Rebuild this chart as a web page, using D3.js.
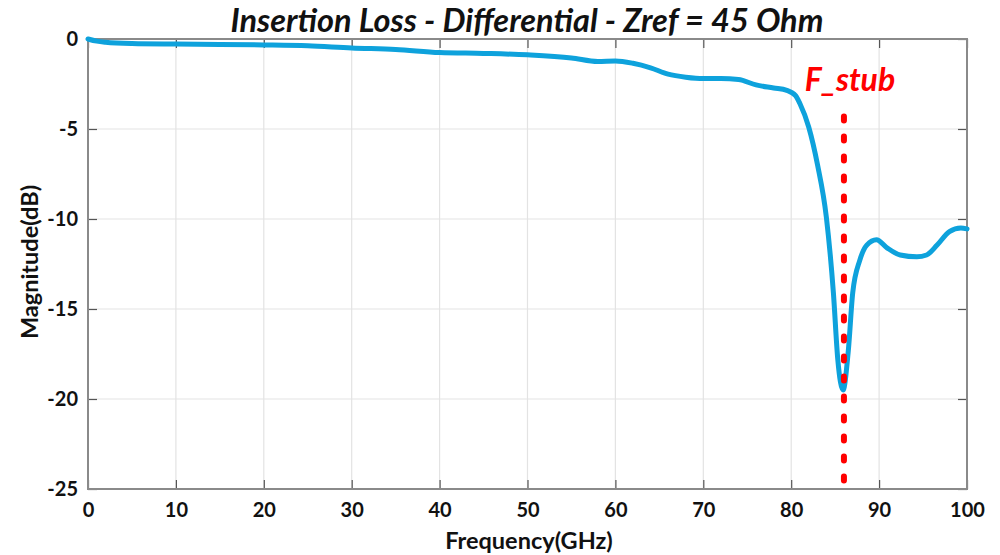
<!DOCTYPE html>
<html>
<head>
<meta charset="utf-8">
<script src="https://cdn.jsdelivr.net/npm/d3@7"></script>
<style>
  html, body { margin: 0; padding: 0; background: #fff; }
  svg { display: block; }
  text { font-family: Lato, "Open Sans", sans-serif; }
</style>
</head>
<body>
<svg id="chart" width="1000" height="555"></svg>
<script>
// Insertion loss sweep (GHz, dB)
const freq = [0, 1, 2, 5, 10, 15, 20, 25, 30, 35, 40, 45, 50, 55, 58, 60, 62, 64, 66, 68, 70, 72, 74, 76, 78, 79.5, 80.5, 81, 82, 83, 84, 84.8, 85.3, 85.9, 86.5, 87, 87.8, 88.6, 89.7, 90.9, 92.4, 94.3, 95.4, 96.6, 98, 99.3, 100];
const magnitude = [0, -0.12, -0.18, -0.25, -0.28, -0.3, -0.33, -0.38, -0.5, -0.58, -0.75, -0.8, -0.88, -1.05, -1.25, -1.22, -1.35, -1.6, -1.95, -2.12, -2.2, -2.2, -2.25, -2.55, -2.72, -2.85, -3.15, -3.6, -4.9, -7.0, -9.9, -14.1, -17.8, -19.5, -17.3, -14.1, -12.3, -11.45, -11.15, -11.6, -12.0, -12.1, -12.0, -11.45, -10.7, -10.5, -10.55];
const xTicks = [0, 10, 20, 30, 40, 50, 60, 70, 80, 90, 100];
const yTicks = [0, -5, -10, -15, -20, -25];
const stubFreq = 86.0;
const stubTop = -4.3;

const svg = d3.select("#chart");
const plotL = 88, plotR = 967, plotT = 39, plotB = 489;

const x = d3.scaleLinear().domain([0, 100]).range([plotL, plotR]);
const y = d3.scaleLinear().domain([-25, 0]).range([plotB, plotT]);
const plain = d => String(d);

// grid
const grid = svg.append("g");
grid.selectAll(".gx").data(xTicks).join("line")
  .attr("x1", d => x(d)).attr("x2", d => x(d))
  .attr("y1", plotT).attr("y2", plotB)
  .attr("stroke", "#e3e3e3").attr("stroke-width", 1.2);
grid.selectAll(".gy").data(yTicks).join("line")
  .attr("x1", plotL).attr("x2", plotR)
  .attr("y1", d => y(d)).attr("y2", d => y(d))
  .attr("stroke", "#e3e3e3").attr("stroke-width", 1.2);

// axes with inward ticks on all four sides
const tickStyle = g => {
  g.select(".domain").remove();
  g.selectAll(".tick line").attr("stroke", "#555").attr("stroke-width", 1.2);
};
const labelStyle = g => g.selectAll("text")
  .attr("font-size", 20).attr("font-weight", 700).attr("fill", "#111");

svg.append("g").attr("transform", `translate(0,${plotB})`)
  .call(d3.axisBottom(x).tickValues(xTicks).tickFormat(plain).tickSizeInner(-9).tickSizeOuter(0).tickPadding(14))
  .call(tickStyle).call(labelStyle);
svg.append("g").attr("transform", `translate(0,${plotT})`)
  .call(d3.axisTop(x).tickValues(xTicks).tickSizeInner(-9).tickSizeOuter(0).tickFormat(""))
  .call(tickStyle);
svg.append("g").attr("transform", `translate(${plotL},0)`)
  .call(d3.axisLeft(y).tickValues(yTicks).tickFormat(plain).tickSizeInner(-9).tickSizeOuter(0).tickPadding(10))
  .call(tickStyle).call(labelStyle);
svg.append("g").attr("transform", `translate(${plotR},0)`)
  .call(d3.axisRight(y).tickValues(yTicks).tickSizeInner(-9).tickSizeOuter(0).tickFormat(""))
  .call(tickStyle);

// frame
svg.append("rect")
  .attr("x", plotL).attr("y", plotT).attr("width", plotR - plotL).attr("height", plotB - plotT)
  .attr("fill", "none").attr("stroke", "#8a8a8a").attr("stroke-width", 2);

// curve
const line = d3.line().x((d, i) => x(freq[i])).y(d => y(d)).curve(d3.curveMonotoneX);
svg.append("path").datum(magnitude)
  .attr("d", line)
  .attr("fill", "none").attr("stroke", "#0ea2dc").attr("stroke-width", 5)
  .attr("stroke-linejoin", "round").attr("stroke-linecap", "round");

// stub resonance marker
svg.append("line")
  .attr("x1", x(stubFreq)).attr("x2", x(stubFreq))
  .attr("y1", y(stubTop)).attr("y2", y(-25))
  .attr("stroke", "#ff0000").attr("stroke-width", 6)
  .attr("stroke-dasharray", "4,16").attr("stroke-linecap", "round");
svg.append("text")
  .attr("x", x(stubFreq) + 6).attr("y", 91)
  .attr("text-anchor", "middle")
  .attr("font-size", 32).attr("font-weight", 700).attr("font-style", "italic")
  .attr("fill", "#ff0000").text("F_stub");

// title and axis labels
svg.append("text")
  .attr("x", 527).attr("y", 32).attr("text-anchor", "middle")
  .attr("font-size", 32.5).attr("font-weight", 700).attr("font-style", "italic")
  .attr("fill", "#111").text("Insertion Loss - Differential - Zref = 45 Ohm");
svg.append("text")
  .attr("x", 529).attr("y", 549).attr("text-anchor", "middle")
  .attr("font-size", 23.5).attr("font-weight", 700)
  .attr("fill", "#111").text("Frequency(GHz)");
svg.append("text")
  .attr("transform", `translate(38,262) rotate(-90)`)
  .attr("text-anchor", "middle")
  .attr("font-size", 23.5).attr("font-weight", 700)
  .attr("fill", "#111").text("Magnitude(dB)");
</script>
</body>
</html>
